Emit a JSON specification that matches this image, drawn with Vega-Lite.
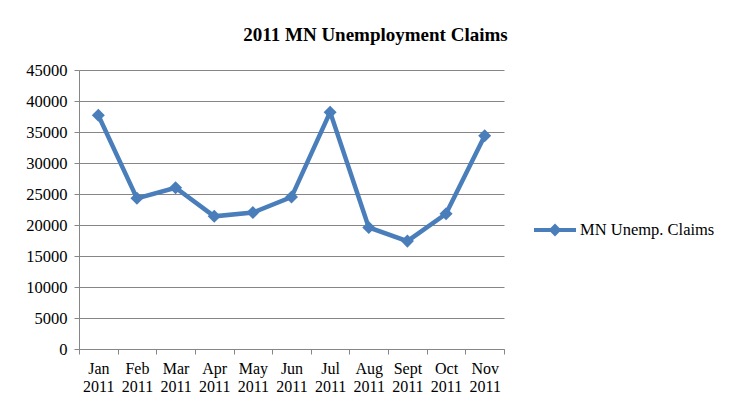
{
  "$schema": "https://vega.github.io/schema/vega-lite/v6.json",
  "width": 425,
  "height": 279,
  "autosize": {"type": "none"},
  "padding": {"left": 79, "top": 70, "right": 235, "bottom": 53},
  "background": "white",
  "title": {
    "text": "2011 MN Unemployment Claims",
    "font": "Liberation Serif",
    "fontSize": 19,
    "fontWeight": "bold",
    "color": "black",
    "anchor": "middle",
    "dx": 84,
    "baseline": "alphabetic",
    "offset": 2
  },
  "data": {
    "values": [
      {"month": "Jan 2011", "series": "MN Unemp. Claims", "claims": 37700},
      {"month": "Feb 2011", "series": "MN Unemp. Claims", "claims": 24300},
      {"month": "Mar 2011", "series": "MN Unemp. Claims", "claims": 26000},
      {"month": "Apr 2011", "series": "MN Unemp. Claims", "claims": 21400},
      {"month": "May 2011", "series": "MN Unemp. Claims", "claims": 22000},
      {"month": "Jun 2011", "series": "MN Unemp. Claims", "claims": 24500},
      {"month": "Jul 2011", "series": "MN Unemp. Claims", "claims": 38200},
      {"month": "Aug 2011", "series": "MN Unemp. Claims", "claims": 19600},
      {"month": "Sept 2011", "series": "MN Unemp. Claims", "claims": 17400},
      {"month": "Oct 2011", "series": "MN Unemp. Claims", "claims": 21800},
      {"month": "Nov 2011", "series": "MN Unemp. Claims", "claims": 34400}
    ]
  },
  "mark": {
    "type": "line",
    "strokeWidth": 4.5,
    "point": {"shape": "diamond", "size": 170, "filled": true, "opacity": 1}
  },
  "encoding": {
    "x": {
      "field": "month",
      "type": "nominal",
      "sort": null,
      "title": null,
      "scale": {"type": "band", "paddingInner": 0, "paddingOuter": 0},
      "axis": {
        "labelAngle": 0,
        "tickBand": "extent",
        "labelExpr": "split(datum.label, ' ')",
        "labelFont": "Liberation Serif",
        "labelFontSize": 16,
        "labelColor": "black",
        "labelLineHeight": 18,
        "labelPadding": 6,
        "labelBaseline": "top",
        "domainColor": "#868686",
        "tickColor": "#868686",
        "tickSize": 5,
        "grid": false
      }
    },
    "y": {
      "field": "claims",
      "type": "quantitative",
      "title": null,
      "scale": {"domain": [0, 45000], "nice": false, "zero": true},
      "axis": {
        "values": [0, 5000, 10000, 15000, 20000, 25000, 30000, 35000, 40000, 45000],
        "format": "d",
        "labelFont": "Liberation Serif",
        "labelFontSize": 16.5,
        "labelColor": "black",
        "labelPadding": 7,
        "domainColor": "#868686",
        "tickColor": "#868686",
        "tickSize": 5,
        "gridColor": "#868686",
        "gridWidth": 1
      }
    },
    "color": {
      "field": "series",
      "type": "nominal",
      "scale": {"range": ["#4A7EBB"]},
      "legend": {
        "title": null,
        "orient": "none",
        "legendX": 453,
        "legendY": 137,
        "symbolType": "M-1,0H1M-0.17,0L0,-0.17L0.17,0L0,0.17Z",
        "symbolSize": 1764,
        "symbolStrokeWidth": 4,
        "symbolFillColor": "#4A7EBB",
        "labelFont": "Liberation Serif",
        "labelFontSize": 16.5,
        "labelColor": "black",
        "labelOffset": 2
      }
    }
  },
  "config": {
    "view": {"stroke": null},
    "axis": {"labelFont": "Liberation Serif"},
    "legend": {"labelFont": "Liberation Serif"}
  }
}
